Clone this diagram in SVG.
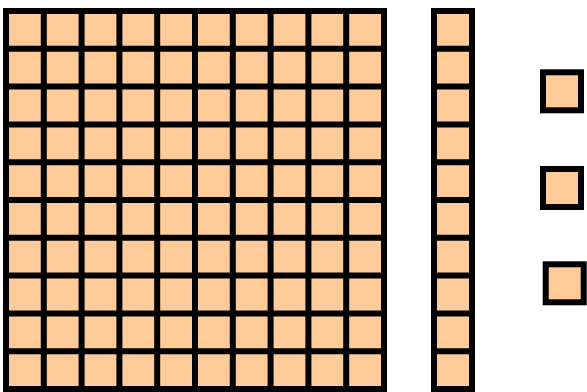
<svg xmlns="http://www.w3.org/2000/svg" width="587" height="392" viewBox="0 0 587 392">
<style>
.blk{fill:#FFCC99;stroke:#000;stroke-width:6}
.ln{fill:none;stroke:#000;stroke-width:6}
</style>
<rect width="587" height="392" fill="#fff"/>
<g id="hundred">
<rect class="blk" x="6" y="11" width="378" height="378"/>
<path class="ln" d="M43.8 11V389M81.6 11V389M119.4 11V389M157.2 11V389M195 11V389M232.8 11V389M270.6 11V389M308.4 11V389M346.2 11V389M6 48.8H384M6 86.6H384M6 124.4H384M6 162.2H384M6 200H384M6 237.8H384M6 275.6H384M6 313.4H384M6 351.2H384"/>
</g>
<g id="ten">
<rect class="blk" x="434" y="11" width="38" height="378"/>
<path class="ln" d="M434 48.8H472M434 86.6H472M434 124.4H472M434 162.2H472M434 200H472M434 237.8H472M434 275.6H472M434 313.4H472M434 351.2H472"/>
</g>
<g id="unit1"><rect class="blk" x="543" y="72.3" width="38" height="38"/></g>
<g id="unit2"><rect class="blk" x="543" y="169" width="38" height="38"/></g>
<g id="unit3"><rect class="blk" x="545.7" y="264.3" width="38" height="38"/></g>
</svg>
